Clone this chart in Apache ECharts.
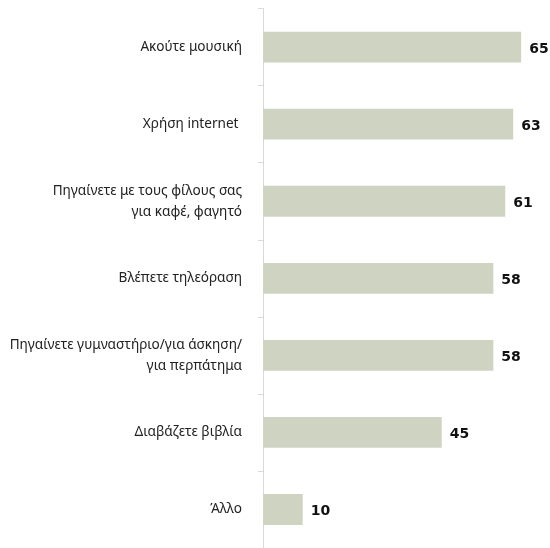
<!DOCTYPE html>
<html>
<head>
<meta charset="utf-8">
<script src="https://cdn.jsdelivr.net/npm/echarts@6/dist/echarts.min.js"></script>
<style>html,body{margin:0;padding:0;background:#fff}#c{width:550px;height:548px}</style>
</head>
<body>
<div id="c"></div>
<script>
const categories = [
  'Ακούτε μουσική',
  'Χρήση internet ',
  'Πηγαίνετε με τους φίλους σας\nγια καφέ, φαγητό',
  'Βλέπετε τηλεόραση',
  'Πηγαίνετε γυμναστήριο/για άσκηση/\nγια περπάτημα',
  'Διαβάζετε βιβλία',
  'Άλλο'
];
const values = [65, 63, 61, 58, 58, 45, 10];

const chart = echarts.init(document.getElementById('c'));
chart.setOption({
  animation: false,
  grid: { left: 263, right: 9, top: 8.6, bottom: -5 },
  xAxis: { type: 'value', min: 0, max: 70, show: false },
  yAxis: {
    type: 'category', data: categories, inverse: true,
    axisLine: { show: true, lineStyle: { color: '#d9d9d9', width: 1 } },
    axisTick: { show: true, length: 5, lineStyle: { color: '#d9d9d9' } },
    axisLabel: {
      margin: 21, color: '#222', fontFamily: 'Noto Sans', fontSize: 13.6,
      lineHeight: 21, align: 'right', padding: [4, 0, 0, 0]
    }
  },
  series: [{
    type: 'bar', data: values, barWidth: '40%',
    itemStyle: { color: '#cfd3c1' },
    label: {
      show: true, position: 'right', distance: 8, offset: [0, 2],
      fontFamily: 'DejaVu Sans', fontWeight: 'bold', fontSize: 14, color: '#111'
    }
  }]
});
</script>
</body>
</html>
